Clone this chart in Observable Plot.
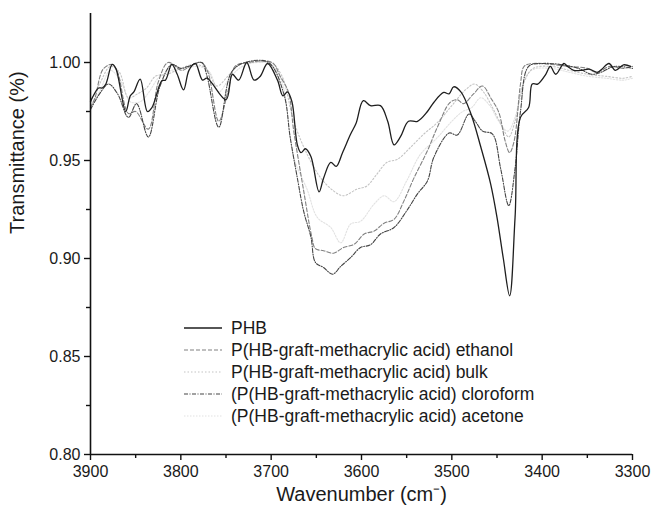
<!DOCTYPE html>
<html>
<head>
<meta charset="utf-8">
<script src="https://cdn.jsdelivr.net/npm/d3@7"></script>
<script src="https://cdn.jsdelivr.net/npm/@observablehq/plot@0.6"></script>
<style>
  html, body { margin: 0; padding: 0; background: #fff; }
  #wrap { position: relative; width: 652px; height: 513px; font-family: "Liberation Sans", Arial, sans-serif; }
  #legend { position: absolute; left: 184px; top: 317px; font-size: 17.5px; color: #1a1a1a; }
  #legend .row { display: flex; align-items: center; height: 22px; white-space: nowrap; }
  #legend svg { margin-right: 9px; }
</style>
</head>
<body>
<div id="wrap"></div>
<script>
// ---- data ----
const seriesNames = [
  "PHB",
  "P(HB-graft-methacrylic acid) ethanol",
  "P(HB-graft-methacrylic acid) bulk",
  "(P(HB-graft-methacrylic acid) cloroform",
  "(P(HB-graft-methacrylic acid) acetone"
];

const phbWave = [3900,3898,3891,3887,3883,3876,3872,3861,3856,3852,3845,3837,3832,3821,3817,3810,3804,3797,3791,3784,3776,3771,3750,3743,3736,3727,3719,3712,3704,3693,3687,3682,3677,3671,3667,3662,3656,3647,3642,3634,3628,3621,3612,3606,3598,3590,3579,3571,3564,3557,3548,3538,3527,3520,3509,3503,3498,3490,3479,3468,3457,3450,3443,3436,3430,3424,3415,3411,3405,3396,3391,3385,3376,3372,3365,3356,3348,3339,3334,3326,3319,3310,3302];
const phbT = [0.980,0.982,0.987,0.987,0.989,0.999,0.997,0.975,0.983,0.985,0.9915,0.975,0.977,0.9907,0.991,0.999,0.994,0.986,0.996,0.9995,0.991,0.992,0.981,0.994,0.991,1.000,0.991,0.993,0.9995,0.991,0.983,0.985,0.980,0.958,0.954,0.956,0.952,0.934,0.941,0.949,0.947,0.954,0.9635,0.969,0.9805,0.978,0.978,0.970,0.958,0.962,0.970,0.970,0.975,0.9796,0.9847,0.984,0.9876,0.985,0.974,0.957,0.938,0.921,0.900,0.881,0.921,0.972,0.977,0.989,0.989,0.994,0.998,0.994,0.9995,0.998,0.996,0.996,0.9966,0.995,0.9966,0.9995,0.996,0.9988,0.998];

const ethWave = [3900,3895,3886,3876,3870,3858,3850,3836,3825,3814,3799,3790,3777,3770,3758,3748,3740,3726,3699,3690,3681,3675,3664,3655,3651,3642,3631,3620,3608,3597,3586,3575,3564,3553,3542,3527,3516,3502,3494,3487,3476,3466,3457,3448,3441,3436,3431,3424,3420,3410,3390,3370,3350,3340,3325,3310,3300];
const ethT = [0.977,0.982,0.9966,0.999,0.995,0.974,0.975,0.966,0.990,1.000,0.996,0.998,1.000,0.995,0.970,0.985,0.998,1.000,1.000,0.993,0.985,0.965,0.9345,0.911,0.905,0.904,0.9027,0.9056,0.9073,0.9125,0.914,0.918,0.920,0.9294,0.941,0.955,0.967,0.9796,0.981,0.979,0.984,0.988,0.982,0.9745,0.960,0.954,0.960,0.989,0.998,0.9995,0.999,0.998,0.997,0.995,0.998,0.997,0.998];

const bulkWave = [3900,3890,3878,3868,3858,3848,3838,3828,3815,3800,3785,3772,3760,3748,3735,3720,3700,3688,3675,3660,3645,3631,3620,3605,3594,3583,3572,3560,3546,3531,3516,3500,3485,3475,3465,3455,3445,3437,3430,3420,3410,3390,3370,3350,3330,3310,3300];
const bulkT = [0.980,0.989,0.998,0.995,0.982,0.984,0.987,0.993,0.994,0.997,0.999,0.997,0.988,0.993,0.999,1.000,1.000,0.993,0.970,0.953,0.941,0.9345,0.932,0.9354,0.937,0.943,0.949,0.9507,0.9566,0.9635,0.9694,0.978,0.986,0.989,0.985,0.977,0.968,0.962,0.970,0.990,0.997,0.998,0.996,0.994,0.993,0.992,0.993];

const chlWave = [3900,3890,3880,3870,3858,3849,3836,3823,3810,3800,3792,3777,3771,3758,3744,3729,3703,3686,3679,3671,3664,3656,3651,3642,3632,3623,3612,3601,3590,3579,3564,3550,3538,3527,3520,3503,3494,3481,3474,3466,3455,3446,3437,3430,3424,3415,3400,3380,3360,3345,3335,3320,3300];
const chlT = [0.976,0.984,0.989,0.984,0.972,0.979,0.962,0.988,0.999,0.997,0.998,1.000,0.993,0.967,0.995,1.000,1.000,0.984,0.962,0.941,0.924,0.911,0.898,0.8954,0.892,0.896,0.9005,0.9056,0.907,0.9125,0.9158,0.9243,0.933,0.9396,0.9515,0.964,0.963,0.9737,0.970,0.965,0.9635,0.946,0.927,0.946,0.975,0.998,0.9995,0.999,0.997,0.994,0.995,0.998,0.997];

const aceWave = [3900,3890,3878,3866,3856,3845,3835,3825,3810,3795,3780,3768,3758,3746,3732,3715,3700,3688,3675,3660,3649,3634,3623,3612,3601,3586,3575,3564,3550,3535,3516,3500,3488,3478,3468,3458,3448,3438,3430,3422,3412,3390,3370,3350,3330,3310,3300];
const aceT = [0.978,0.985,0.996,0.990,0.980,0.980,0.985,0.992,0.996,0.997,0.998,0.995,0.985,0.992,0.998,1.000,0.999,0.990,0.9515,0.935,0.921,0.9158,0.908,0.9176,0.919,0.9278,0.932,0.929,0.9396,0.953,0.9617,0.970,0.975,0.977,0.982,0.978,0.970,0.965,0.972,0.988,0.996,0.997,0.995,0.993,0.992,0.991,0.992];

const xMajor = [3900,3800,3700,3600,3500,3400,3300];
const xMinor = [3850,3750,3650,3550,3450,3350];
const yMajor = [0.80,0.85,0.90,0.95,1.00];
const yMinor = [0.825,0.875,0.925,0.975];

// ---- styles ----
const styles = [
  {stroke: "#1e1e1e", dash: null, width: 1.3},
  {stroke: "#808080", dash: "4,2", width: 1.1},
  {stroke: "#c4c4c4", dash: "1.5,2", width: 1.1},
  {stroke: "#444444", dash: "4,1.5,1,1.5", width: 1.1},
  {stroke: "#e2e2e2", dash: "1.5,1.5", width: 1.1}
];

const waves = [phbWave, ethWave, bulkWave, chlWave, aceWave];
const vals = [phbT, ethT, bulkT, chlT, aceT];
const tables = waves.map((w, i) => w.map((x, j) => ({w: x, t: vals[i][j]})));

// draw light lines first so dark ones sit on top
const drawOrder = [4, 2, 1, 3, 0];

const chart = Plot.plot({
  width: 652,
  height: 513,
  marginLeft: 90,
  marginRight: 20,
  marginTop: 13,
  marginBottom: 59,
  style: {fontFamily: "'Liberation Sans', Arial, sans-serif", fontSize: "16px", color: "#1a1a1a", background: "#fff"},
  x: {domain: [3900, 3300], axis: null},
  y: {domain: [0.80, 1.025], axis: null},
  marks: [
    ...drawOrder.map(i => Plot.line(tables[i], {
      x: "w", y: "t", curve: "catmull-rom",
      stroke: styles[i].stroke, strokeWidth: styles[i].width,
      strokeDasharray: styles[i].dash || undefined
    })),
    Plot.axisX({ticks: xMajor, tickSize: 6, tickPadding: 5, tickFormat: d => String(d), label: null, stroke: "#111", strokeWidth: 1.4}),
    Plot.axisX({ticks: xMinor, tickSize: 4, tickFormat: () => "", label: null, stroke: "#111", strokeWidth: 1.4}),
    Plot.axisY({ticks: yMajor, tickSize: 6, tickPadding: 4, tickFormat: d3.format(".2f"), label: null, stroke: "#111", strokeWidth: 1.4}),
    Plot.axisY({ticks: yMinor, tickSize: 4, tickFormat: () => "", label: null, stroke: "#111", strokeWidth: 1.4}),
    Plot.ruleY([0.80], {x1: 3900, x2: 3300, stroke: "#111", strokeWidth: 1.6}),
    Plot.ruleX([3900], {y1: 0.80, y2: 1.025, stroke: "#111", strokeWidth: 1.6}),
    Plot.text(["Wavenumber (cm\u207B)"], {frameAnchor: "bottom", dy: 46, fontSize: 20, fill: "#1a1a1a"}),
    Plot.text(["Transmittance (%)"], {frameAnchor: "left", rotate: -90, dx: -73, fontSize: 20, fill: "#1a1a1a"})
  ]
});

const wrap = document.getElementById("wrap");
wrap.appendChild(chart);

// legend overlay
const legend = document.createElement("div");
legend.id = "legend";
seriesNames.forEach((name, i) => {
  const row = document.createElement("div");
  row.className = "row";
  const s = styles[i];
  row.innerHTML = `<svg width="38" height="6"><line x1="0" y1="3" x2="38" y2="3" stroke="${s.stroke}" stroke-width="${s.width}" ${s.dash ? `stroke-dasharray="${s.dash}"` : ""}/></svg><span>${name}</span>`;
  legend.appendChild(row);
});
wrap.appendChild(legend);
</script>
</body>
</html>
